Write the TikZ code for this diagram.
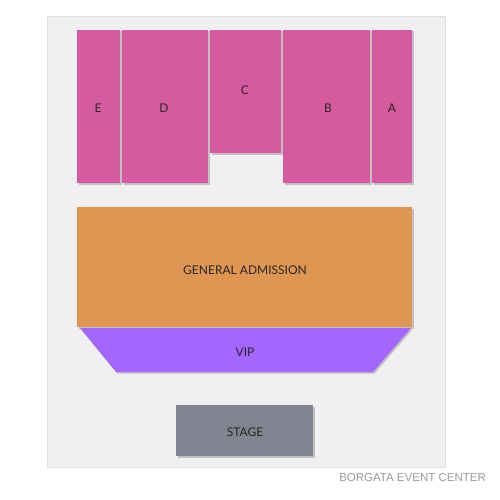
\documentclass[tikz,border=0pt]{standalone}
\usepackage{fontspec}
\setmainfont{Lato}
\newfontfamily\capfont{Liberation Sans}
\usetikzlibrary{shadows}
\definecolor{panelgray}{HTML}{F0F0F0}
\definecolor{seatpink}{HTML}{D65A9F}
\definecolor{gaorange}{HTML}{E09653}
\definecolor{vippurple}{HTML}{A366FF}
\definecolor{stagegray}{HTML}{838491}
\definecolor{captiongray}{HTML}{9A9A9A}
\tikzset{
  seat/.style={drop shadow={shadow xshift=1.5pt,shadow yshift=-1.5pt,fill=black,opacity=0.2}},
  lbl/.style={inner sep=0.75pt,font=\fontsize{12}{14}\selectfont,text=black!85}
}
\begin{document}
\begin{tikzpicture}[x=1pt,y=1pt,yscale=-1,xscale=1]
\useasboundingbox (0,0) rectangle (500,500);
\fill[white] (0,0) rectangle (500,500);
\fill[panelgray,draw=black!12] (47,16) rectangle (445,467);
% seating blocks
\fill[seatpink,seat] (77,30) rectangle (120,183);
\fill[seatpink,seat] (122,30) rectangle (208,183);
\fill[seatpink,seat] (210,30) rectangle (281,153);
\fill[seatpink,seat] (283,30) rectangle (370,183);
\fill[seatpink,seat] (372,30) rectangle (412,183);
\fill[gaorange,seat] (77,207) rectangle (412,327);
\fill[vippurple,seat] (80,328) -- (411,328) -- (373,372) -- (116,372) -- cycle;
\fill[stagegray,seat] (176,405) rectangle (313,456);
% Text Node
\draw (98,108) node [lbl] (secE) {E};
\draw (164,108) node [lbl] (secD) {D};
\draw (245,90) node [lbl] (secC) {C};
\draw (328,108) node [lbl] (secB) {B};
\draw (392,108) node [lbl] (secA) {A};
\draw (245,270) node [lbl] (ga) {GENERAL ADMISSION};
\draw (245,352) node [lbl] (vip) {VIP};
\draw (245,432) node [lbl] (stage) {STAGE};
% Caption
\draw (486,478) node [anchor=east,inner sep=0pt,font=\capfont\fontsize{11.5}{13}\selectfont,text=captiongray] (venue) {BORGATA EVENT CENTER};
\end{tikzpicture}
\end{document}
